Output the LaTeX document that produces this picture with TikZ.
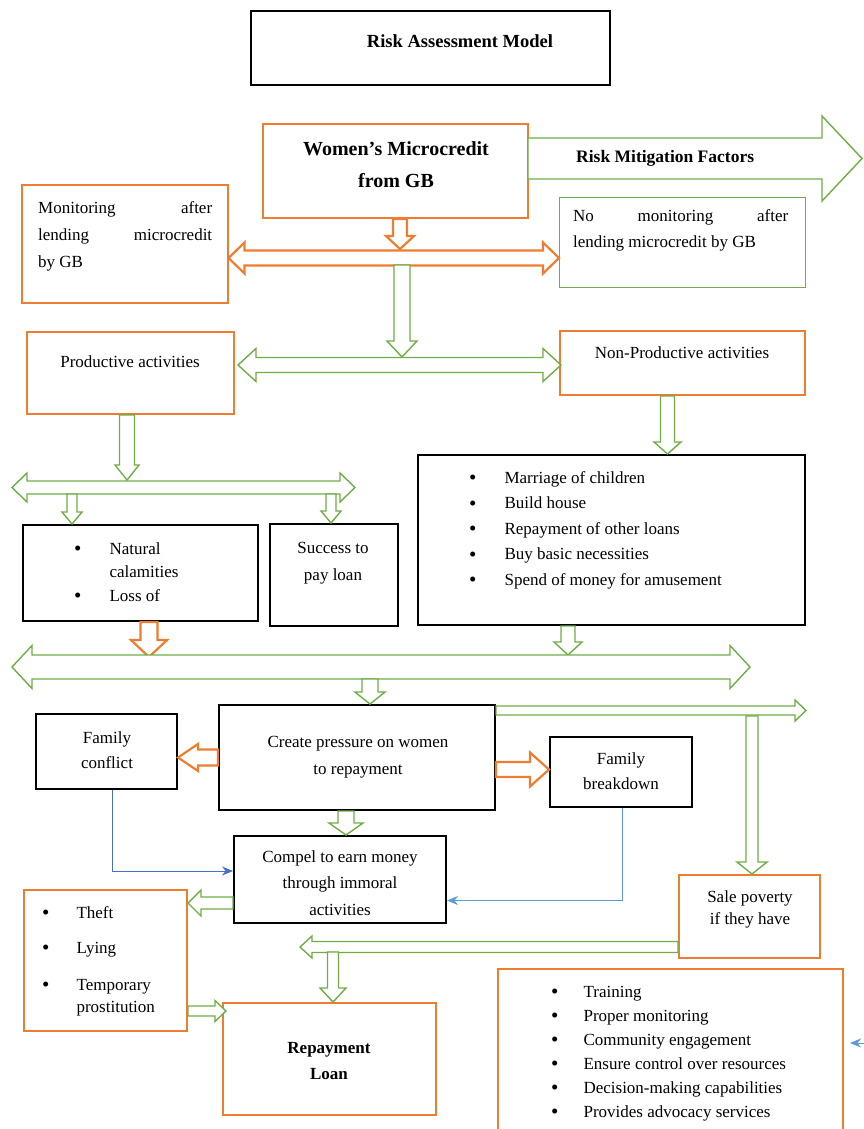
\documentclass[tikz,border=0pt]{standalone}
\usepackage{fontspec}
\setmainfont{Liberation Serif}
\usetikzlibrary{calc}
\usetikzlibrary{positioning}
\usetikzlibrary{arrows.meta}

\definecolor{orng}{RGB}{237,125,49}
\definecolor{grn}{RGB}{112,173,71}
\definecolor{blu}{RGB}{91,155,213}
\definecolor{dblu}{RGB}{68,114,196}
\newcommand{\sz}[2]{\fontsize{#1}{#2}\selectfont}
\newcommand{\blt}{\raisebox{-1.6pt}{\fontsize{21}{21}\selectfont\textbullet}}

\begin{document}
\begin{tikzpicture}[x=1pt, y=-1pt, font=\sz{17}{25},
    barrow/.style n args={3}{to path={
      ($(\tikztostart)!#1!90:(\tikztotarget)$)
      -- ($(\tikztotarget)!#3!(\tikztostart)!#1!90:(\tikztotarget)$)
      -- ($(\tikztotarget)!#3!(\tikztostart)!#2!90:(\tikztotarget)$)
      -- (\tikztotarget)
      -- ($(\tikztotarget)!#3!(\tikztostart)!#2!-90:(\tikztotarget)$)
      -- ($(\tikztotarget)!#3!(\tikztostart)!#1!-90:(\tikztotarget)$)
      -- ($(\tikztostart)!#1!-90:(\tikztotarget)$) -- cycle}},
    dbarrow/.style n args={3}{to path={
      ($(\tikztostart)!#3!(\tikztotarget)!#1!90:(\tikztotarget)$)
      -- ($(\tikztotarget)!#3!(\tikztostart)!#1!90:(\tikztotarget)$)
      -- ($(\tikztotarget)!#3!(\tikztostart)!#2!90:(\tikztotarget)$)
      -- (\tikztotarget)
      -- ($(\tikztotarget)!#3!(\tikztostart)!#2!-90:(\tikztotarget)$)
      -- ($(\tikztotarget)!#3!(\tikztostart)!#1!-90:(\tikztotarget)$)
      -- ($(\tikztostart)!#3!(\tikztotarget)!#1!-90:(\tikztotarget)$)
      -- ($(\tikztostart)!#3!(\tikztotarget)!#2!-90:(\tikztotarget)$)
      -- (\tikztostart)
      -- ($(\tikztostart)!#3!(\tikztotarget)!#2!90:(\tikztotarget)$) -- cycle}}]
	\tikzstyle{obox}=[draw=orng, line width=2pt, rectangle, inner sep=0pt]
	\tikzstyle{kbox}=[draw=black, line width=2pt, rectangle, inner sep=0pt]
	\tikzstyle{gbox}=[draw=grn, line width=1pt, rectangle, inner sep=0pt]
	\tikzstyle{txt}=[inner sep=0pt, align=center]
	\tikzstyle{garr}=[draw=grn, fill=white, line width=1.4pt, line join=miter]
	\tikzstyle{oarr}=[draw=orng, fill=white, line width=2.2pt, line join=miter]
	\tikzstyle{link}=[line width=1pt, -{Stealth[length=11pt, width=9pt]}]

	\useasboundingbox (0,0) rectangle (863,1129);

	% boxes, top part
	\node[kbox, minimum width=359pt, minimum height=74pt] (title) at (430.5,48) {};
	\node[txt, font=\sz{18.5}{22}\bfseries] (title-t) at (460,41) {Risk Assessment Model};
	\node[obox, minimum width=265pt, minimum height=94pt] (wm) at (395.5,171) {};
	\node[txt, font=\sz{20}{32}\bfseries] (wm-t) at (396,165) {Women’s Microcredit\\from GB};
	\node[obox, minimum width=206pt, minimum height=118pt] (mon) at (124.5,244) {};
	\node[txt, align=left, anchor=north west, font=\sz{17}{27}] (mon-t) at (38,201) {\makebox[174pt][s]{Monitoring after}\\\makebox[174pt][s]{lending microcredit}\\by GB};
	\node[gbox, minimum width=246pt, minimum height=90pt] (nomon) at (682.5,242.5) {};
	\node[txt, align=left, anchor=north west, font=\sz{17}{26}] (nomon-t) at (573,209) {\makebox[215pt][s]{No monitoring after}\\lending microcredit by GB};

	\node[obox, minimum width=207pt, minimum height=82pt] (prod) at (130,373) {};
	\node[txt] (prod-t) at (130,362) {Productive activities};
	\node[obox, minimum width=245pt, minimum height=64pt] (nonprod) at (682.5,363) {};
	\node[txt] (nonprod-t) at (682,353) {Non-Productive activities};

	\node[kbox, minimum width=235pt, minimum height=96pt] (natural) at (140.5,573) {};
	\node[txt, anchor=base west, font=\sz{17}{23.5}] (natural-t) at (74,554) {\begin{tabular}[t]{@{}l@{\hspace{28pt}}l@{}}\blt & Natural\\ & calamities\\ \blt & Loss of\end{tabular}};
	\node[kbox, minimum width=128pt, minimum height=102pt] (success) at (334,575) {};
	\node[txt, font=\sz{17}{27}] (success-t) at (333,563) {Success to\\pay loan};
	\node[kbox, minimum width=387pt, minimum height=170pt] (uses) at (611.5,540) {};
	\node[txt, anchor=base west, font=\sz{17}{25.5}] (uses-t) at (469,483) {\begin{tabular}[t]{@{}l@{\hspace{28pt}}l@{}}\blt & Marriage of children\\ \blt & Build house\\ \blt & Repayment of other loans\\ \blt & Buy basic necessities\\ \blt & Spend of money for amusement\end{tabular}};

	% boxes, lower part
	\node[kbox, minimum width=276pt, minimum height=105pt] (pressure) at (357,757.5) {};
	\node[txt, font=\sz{17}{27}] (pressure-t) at (358,757) {Create pressure on women\\to repayment};
	\node[kbox, minimum width=141pt, minimum height=75pt] (fconf) at (106.5,751.5) {};
	\node[txt] (fconf-t) at (107,750) {Family\\conflict};
	\node[kbox, minimum width=142pt, minimum height=70pt] (fbreak) at (621,772) {};
	\node[txt] (fbreak-t) at (621,771) {Family\\breakdown};
	\node[kbox, minimum width=212pt, minimum height=87pt] (compel) at (340,879.5) {};
	\node[txt, font=\sz{17}{26.5}] (compel-t) at (340,883) {Compel to earn money\\through immoral\\activities};
	\node[obox, minimum width=163pt, minimum height=141pt] (theft) at (105.5,960.5) {};
	\node[txt, anchor=base west, font=\sz{17}{22.5}] (theft-t) at (42,918) {\begin{tabular}[t]{@{}l@{\hspace{27pt}}l@{}}\blt & Theft\\[12.5pt] \blt & Lying\\[14.5pt] \blt & Temporary\\ & prostitution\end{tabular}};
	\node[obox, minimum width=141pt, minimum height=83pt] (sale) at (749.5,916.5) {};
	\node[txt, font=\sz{17}{22}] (sale-t) at (750,909) {Sale poverty\\if they have};
	\node[obox, minimum width=213pt, minimum height=112pt] (repay) at (329.5,1059) {};
	\node[txt, font=\sz{17}{25.5}\bfseries] (repay-t) at (329,1061) {Repayment\\Loan};
	\node[obox, minimum width=345pt, minimum height=180pt] (mitig) at (670.5,1059) {};
	\node[txt, anchor=base west, font=\sz{17}{24}] (mitig-t) at (551,997) {\begin{tabular}[t]{@{}l@{\hspace{25pt}}l@{}}\blt & Training\\ \blt & Proper monitoring\\ \blt & Community engagement\\ \blt & Ensure control over resources\\ \blt & Decision-making capabilities\\ \blt & Provides advocacy services\end{tabular}};

	% ends of the block arrows
	\coordinate (rmf-s) at (528,158.5);
	\coordinate (rmf-e) at (862,158.5);
	\coordinate (top-s) at ([xshift=4.5pt]wm.south);
	\coordinate (bus1) at (400,249);
	\coordinate (bus1-l) at ([yshift=-14pt]mon.east);
	\coordinate (bus1-r) at (nomon.west |- bus1-l);
	\coordinate (bus1-s) at (402,265);
	\coordinate (bus1-e) at (402,357);
	\coordinate (bus2-l) at (238,365);
	\coordinate (bus2-r) at (561,365);
	\coordinate (prod-s) at ([xshift=-3pt]prod.south);
	\coordinate (bus3) at (127,480);
	\coordinate (np-s) at ([xshift=-15pt]nonprod.south);
	\coordinate (bus3-l) at (12,487.5);
	\coordinate (bus3-r) at (355,487.5);
	\coordinate (d1) at (72,494);
	\coordinate (d2) at (331,494);
	\coordinate (nat-s) at ([xshift=8.5pt]natural.south);
	\coordinate (uses-s) at ([xshift=-43.5pt]uses.south);
	\coordinate (bus4-o) at (149,657);
	\coordinate (bus4-g) at (568,655);
	\coordinate (bus4-l) at (12,667);
	\coordinate (bus4-r) at (750,667);
	\coordinate (d3) at (370,679);
	\coordinate (pr-ne) at ([yshift=-6.5pt]pressure.north east);
	\coordinate (side-x) at (806,0);
	\coordinate (side) at (pr-ne -| side-x);
	\coordinate (side-d) at (752,716);
	\coordinate (sale-n) at ([xshift=2.5pt]sale.north);
	\coordinate (pr-e) at ([yshift=-12pt]pressure.east);
	\coordinate (pr-s) at ([xshift=-11pt]pressure.south);
	\coordinate (co-w) at ([yshift=-23.5pt]compel.west);
	\coordinate (sale-w) at ([yshift=-30.5pt]sale.west);
	\coordinate (back-x) at (300,0);
	\coordinate (back) at (sale-w -| back-x);
	\coordinate (back-d) at (333,952);
	\coordinate (rep-n) at ([xshift=3.5pt]repay.north);
	\coordinate (th-e) at ([yshift=-50.5pt]theft.east);
	\coordinate (rep-x) at (226,0);
	\coordinate (rep-w) at (th-e -| rep-x);
	\coordinate (edge) at (864,1043);
	\coordinate (edge-e) at (850,1043);

	% block arrows
	\path[garr] (rmf-s) to[barrow={20.5pt}{42.5pt}{40pt}] (rmf-e);
	\node[txt, font=\sz{17.5}{22}\bfseries, right=48pt of rmf-s, anchor=west] (rmf) {Risk Mitigation Factors};
	\path[oarr] (top-s) to[barrow={7pt}{14pt}{13pt}] (bus1);
	\path[oarr] (bus1-l) to[dbarrow={7.5pt}{15.5pt}{16pt}] (bus1-r);
	\path[garr] (bus1-s) to[barrow={8pt}{15pt}{16pt}] (bus1-e);
	\path[garr] (bus2-l) to[dbarrow={7.5pt}{16.5pt}{18pt}] (bus2-r);
	\path[garr] (prod-s) to[barrow={7.5pt}{12pt}{15pt}] (bus3);
	\path[garr] (np-s) to[barrow={7pt}{13.5pt}{12pt}] (np-s |- uses.north);
	\path[garr] (bus3-l) to[dbarrow={6.5pt}{14.5pt}{15pt}] (bus3-r);
	\path[garr] (d1) to[barrow={5pt}{10pt}{12pt}] (d1 |- natural.north);
	\path[garr] (d2) to[barrow={5pt}{10pt}{12pt}] (d2 |- success.north);
	\path[oarr] (nat-s) to[barrow={8.5pt}{18pt}{17pt}] (bus4-o);
	\path[garr] (uses-s) to[barrow={7pt}{14pt}{13pt}] (bus4-g);
	\path[garr] (bus4-l) to[dbarrow={12pt}{21.5pt}{20pt}] (bus4-r);
	\path[garr] (d3) to[barrow={8pt}{15pt}{12pt}] (d3 |- pressure.north);
	\path[garr] (pr-ne) to[barrow={4.5pt}{10.5pt}{11pt}] (side);
	\path[garr] (side-d) to[barrow={6pt}{15pt}{12pt}] (sale-n);
	\path[oarr] (pressure.west) to[barrow={8pt}{13.5pt}{20pt}] (fconf.east |- pressure.west);
	\path[oarr] (pr-e) to[barrow={7.5pt}{17pt}{19pt}] (fbreak.west |- pr-e);
	\path[garr] (pr-s) to[barrow={8pt}{17pt}{12pt}] (pr-s |- compel.north);
	\path[garr] (co-w) to[barrow={6pt}{13pt}{13pt}] (theft.east |- co-w);
	\path[garr] (sale-w) to[barrow={5.5pt}{11pt}{12pt}] (back);
	\path[garr] (back-d) to[barrow={5.5pt}{13pt}{14pt}] (rep-n);
	\path[garr] (th-e) to[barrow={5pt}{10.5pt}{11pt}] (rep-w);

	% thin links
	\draw[link, dblu] ([xshift=6pt]fconf.south) |- ([yshift=8.5pt]compel.west);
	\draw[link, blu] ([xshift=1pt]fbreak.south) |- ([yshift=-21pt]compel.east);
	\draw[link, blu] (edge) -- (edge-e);
\end{tikzpicture}
\end{document}
